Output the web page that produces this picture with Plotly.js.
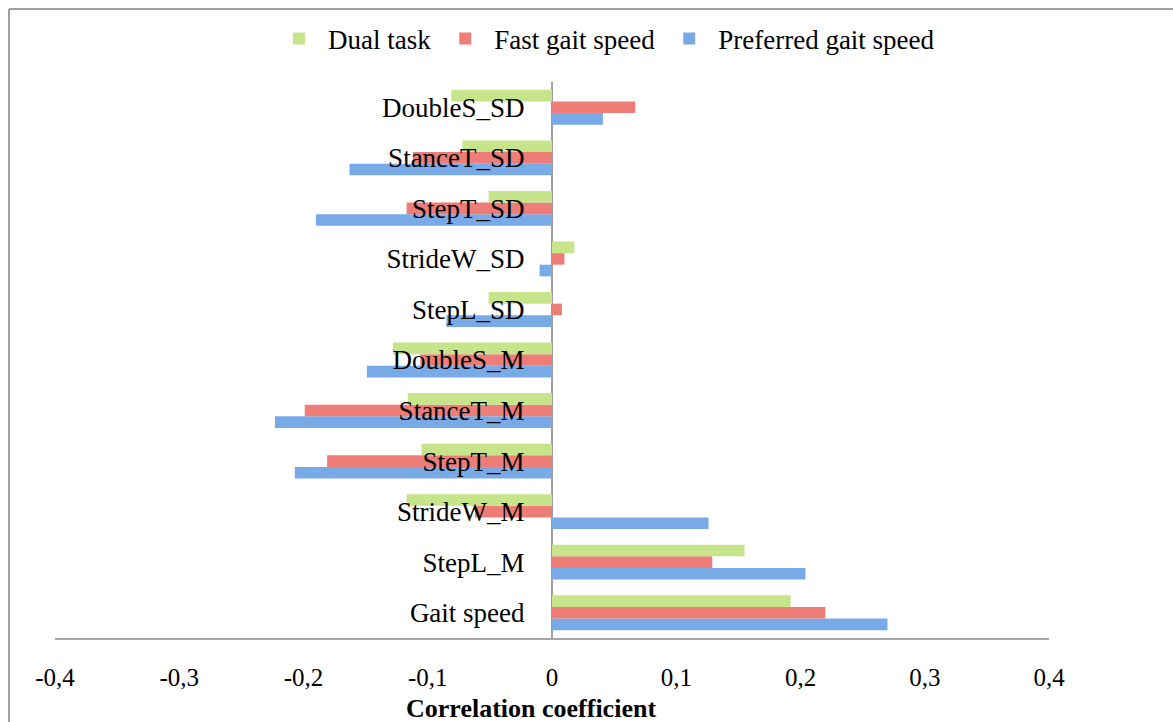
<!DOCTYPE html>
<html>
<head>
<meta charset="utf-8">
<script src="https://cdn.plot.ly/plotly-3.0.1.min.js"></script>
<style>
html,body{margin:0;padding:0;background:#fff;}
#chart{width:1173px;height:722px;}
</style>
</head>
<body>
<div id="chart"></div>
<script>
// Categories from bottom to top
const categories = ["Gait speed","StepL_M","StrideW_M","StepT_M","StanceT_M","DoubleS_M","StepL_SD","StrideW_SD","StepT_SD","StanceT_SD","DoubleS_SD"];
const preferredGait = [0.270, 0.204, 0.126, -0.207, -0.223, -0.149, -0.085, -0.010, -0.190, -0.163, 0.041];
const fastGait      = [0.220, 0.129, -0.062, -0.181, -0.199, -0.106, 0.008, 0.010, -0.117, -0.112, 0.067];
const dualTask      = [0.192, 0.155, -0.117, -0.105, -0.116, -0.128, -0.051, 0.018, -0.051, -0.072, -0.081];
const xTickVals = [-0.4,-0.3,-0.2,-0.1,0,0.1,0.2,0.3,0.4];
const xTickText = ["-0,4","-0,3","-0,2","-0,1","0","0,1","0,2","0,3","0,4"];

const FONT = "Liberation Serif, DejaVu Serif, serif";

const traces = [
  {type:'bar', orientation:'h', name:'Preferred gait speed', y:categories, x:preferredGait,
   marker:{color:'#79AAE8', line:{width:0}}},
  {type:'bar', orientation:'h', name:'Fast gait speed', y:categories, x:fastGait,
   marker:{color:'#EE7C77', line:{width:0}}},
  {type:'bar', orientation:'h', name:'Dual task', y:categories, x:dualTask,
   marker:{color:'#C6E58B', line:{width:0}}}
];

const L = 55, R = 1049, T = 82, B = 638;
const W = R - L, H = B - T;
const px = v => (v - L) / W;
const py = v => (B - v) / H;

const layout = {
  width:1173, height:722,
  margin:{l:L, r:1173-R, t:T, b:722-B, pad:0},
  paper_bgcolor:'#fff', plot_bgcolor:'#fff',
  barmode:'group', bargap:0.31, bargroupgap:0,
  showlegend:true,
  legend:{orientation:'h', traceorder:'reversed', x:px(605), xanchor:'center', y:py(39), yanchor:'middle',
          font:{family:FONT, size:27, color:'#000'}, itemwidth:48},
  font:{family:FONT, color:'#000'},
  xaxis:{range:[-0.4,0.4], tickvals:xTickVals, ticktext:xTickText, showgrid:false,
         zeroline:true, zerolinecolor:'#a0a0a0', zerolinewidth:2,
         showline:true, linecolor:'#a6a6a6', linewidth:2,
         ticks:'outside', ticklen:16, tickcolor:'rgba(0,0,0,0)',
         tickfont:{family:FONT, size:25, color:'#000'}, fixedrange:true},
  yaxis:{type:'category', categoryorder:'array', categoryarray:categories,
         anchor:'free', position:0.5, side:'left', showline:false, showgrid:false, zeroline:false,
         ticks:'outside', ticklen:22, tickcolor:'rgba(0,0,0,0)',
         tickfont:{family:FONT, size:27, color:'#000'}, fixedrange:true},
  annotations:[{text:'<b>Correlation coefficient</b>', xref:'paper', yref:'paper',
                x:px(531), y:py(708), xanchor:'center', yanchor:'middle', showarrow:false,
                font:{family:FONT, size:26, color:'#000'}}],
  shapes:[
    {type:'line', xref:'paper', yref:'paper', x0:px(9), x1:px(1180), y0:py(9), y1:py(9), line:{color:'#a0a0a0', width:2}},
    {type:'line', xref:'paper', yref:'paper', x0:px(9), x1:px(9), y0:py(9), y1:py(730), line:{color:'#a0a0a0', width:2}}
  ]
};

Plotly.newPlot('chart', traces, layout, {displayModeBar:false, staticPlot:true});
</script>
</body>
</html>
